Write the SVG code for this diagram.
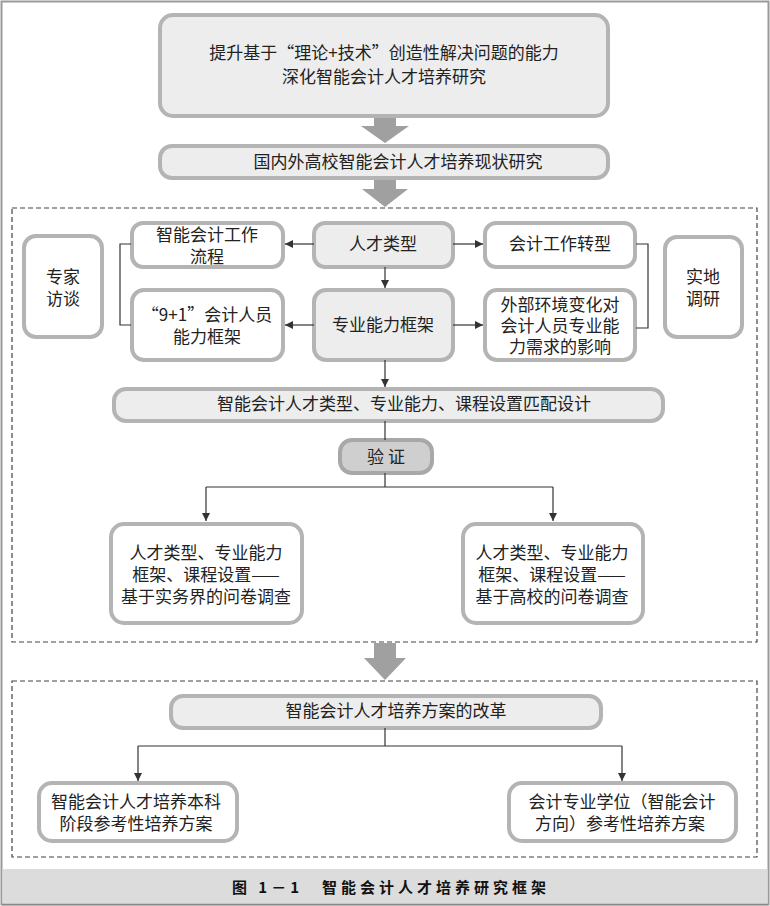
<svg xmlns="http://www.w3.org/2000/svg" width="770" height="906" viewBox="0 0 770 906">
<defs>
<style>
text{font-family:"Noto Sans CJK SC","Liberation Sans",sans-serif;font-size:17px;fill:#222;text-anchor:middle}
.n{fill:#fff;stroke:#b4b4b4;stroke-width:4}
.g{fill:#ededed;stroke:#b4b4b4;stroke-width:4}
.v{fill:#cfcfcf;stroke:#a8a8a8;stroke-width:4}
.d{fill:none;stroke:#444;stroke-width:1.2;stroke-dasharray:5 3}
.c{fill:none;stroke:#333;stroke-width:1.2}
.ba{fill:#a0a0a0}
.cap{font-weight:bold;font-size:15px;letter-spacing:4px;fill:#111}
</style>
<marker id="ah" viewBox="0 0 10 10" refX="10" refY="5" markerWidth="8" markerHeight="8" markerUnits="userSpaceOnUse" orient="auto">
<path d="M0,0 L10,5 L0,10 z" fill="#333"/>
</marker>
</defs>
<rect x="0" y="0" width="770" height="906" fill="#fff"/>
<rect x="1.5" y="1.5" width="767" height="903" fill="none" stroke="#999" stroke-width="2"/>
<rect x="2.5" y="869" width="765" height="35" fill="#dcdcdc"/>
<line x1="2" y1="904.5" x2="768" y2="904.5" stroke="#888" stroke-width="1.5"/>
<text class="cap" x="391" y="893">图 1－1　智能会计人才培养研究框架</text>

<rect class="d" x="12" y="208" width="745" height="434"/>
<rect class="d" x="12" y="681" width="745" height="176"/>

<g id="blockarrows">
<polygon class="ba" points="374,116 396,116 396,126 409,126 385,143 361,126 374,126"/>
<polygon class="ba" points="374,178 396,178 396,189 408,189 385,207 362,189 374,189"/>
<polygon class="ba" points="374,643 396,643 396,658 406,658 385,680 364,658 374,658"/>
</g>

<g id="n_top"><rect class="g" x="160" y="15" width="448" height="101" rx="13"/>
<text x="384" y="59">提升基于“理论+技术”创造性解决问题的能力<tspan x="384" dy="24">深化智能会计人才培养研究</tspan></text></g>

<g id="n_status"><rect class="g" x="160" y="146" width="448" height="32" rx="12"/>
<text x="398" y="168">国内外高校智能会计人才培养现状研究</text></g>

<g id="n_expert"><rect class="n" x="24" y="236" width="78" height="101" rx="12"/>
<text x="63" y="283">专家<tspan x="63" dy="22">访谈</tspan></text></g>

<g id="n_flow"><rect class="n" x="132" y="223" width="151" height="44" rx="11"/>
<text x="207" y="241">智能会计工作<tspan x="207" dy="22">流程</tspan></text></g>

<g id="n_91"><rect class="n" x="132" y="290" width="151" height="70" rx="12"/>
<text x="207" y="321">“9+1”会计人员<tspan x="207" dy="22">能力框架</tspan></text></g>

<g id="n_type"><rect class="g" x="314" y="223" width="139" height="44" rx="11"/>
<text x="383" y="250">人才类型</text></g>

<g id="n_frame"><rect class="g" x="314" y="290" width="139" height="70" rx="12"/>
<text x="383" y="331">专业能力框架</text></g>

<g id="n_trans"><rect class="n" x="485" y="223" width="150" height="44" rx="11"/>
<text x="560" y="250">会计工作转型</text></g>

<g id="n_env"><rect class="n" x="485" y="290" width="150" height="70" rx="12"/>
<text x="560" y="311">外部环境变化对<tspan x="560" dy="21">会计人员专业能</tspan><tspan x="560" dy="21">力需求的影响</tspan></text></g>

<g id="n_field"><rect class="n" x="665" y="237" width="77" height="100" rx="12"/>
<text x="703" y="283">实地<tspan x="703" dy="22">调研</tspan></text></g>

<g id="n_match"><rect class="g" x="114" y="389" width="549" height="32" rx="12"/>
<text x="404" y="410">智能会计人才类型、专业能力、课程设置匹配设计</text></g>

<g id="n_verify"><rect class="v" x="340" y="440" width="92" height="33" rx="12"/>
<text x="386" y="463">验 证</text></g>

<g id="n_survey1"><rect class="n" x="111" y="524" width="191" height="99" rx="13"/>
<text x="206" y="559">人才类型、专业能力<tspan x="206" dy="22">框架、课程设置——</tspan><tspan x="206" dy="22">基于实务界的问卷调查</tspan></text></g>

<g id="n_survey2"><rect class="n" x="463" y="524" width="180" height="99" rx="13"/>
<text x="552" y="559">人才类型、专业能力<tspan x="552" dy="22">框架、课程设置——</tspan><tspan x="552" dy="22">基于高校的问卷调查</tspan></text></g>

<g id="n_reform"><rect class="g" x="171" y="696" width="430" height="32" rx="12"/>
<text x="396" y="717">智能会计人才培养方案的改革</text></g>

<g id="n_ug"><rect class="n" x="39" y="783" width="198" height="58" rx="13"/>
<text x="136" y="808">智能会计人才培养本科<tspan x="136" dy="22">阶段参考性培养方案</tspan></text></g>

<g id="n_master"><rect class="n" x="509" y="783" width="227" height="58" rx="13"/>
<text x="622" y="808">会计专业学位（智能会计<tspan x="620" dy="22">方向）参考性培养方案</tspan></text></g>

<g id="connectors">
<line class="c" x1="314" y1="244" x2="285" y2="244" marker-end="url(#ah)"/>
<line class="c" x1="314" y1="325" x2="285" y2="325" marker-end="url(#ah)"/>
<line class="c" x1="453" y1="244" x2="483" y2="244" marker-end="url(#ah)"/>
<line class="c" x1="453" y1="325" x2="483" y2="325" marker-end="url(#ah)"/>
<line class="c" x1="385" y1="267" x2="385" y2="288" marker-end="url(#ah)"/>
<polyline class="c" points="131,244 120,244 120,325 131,325"/>
<polyline class="c" points="636,244 648,244 648,328 636,328"/>
<line class="c" x1="385" y1="360" x2="385" y2="387" marker-end="url(#ah)"/>
<line class="c" x1="385" y1="421" x2="385" y2="440"/>
<line class="c" x1="385" y1="473" x2="385" y2="487"/>
<polyline class="c" points="206,487 553,487"/>
<line class="c" x1="206" y1="487" x2="206" y2="521" marker-end="url(#ah)"/>
<line class="c" x1="553" y1="487" x2="553" y2="521" marker-end="url(#ah)"/>
<line class="c" x1="385" y1="728" x2="385" y2="746"/>
<polyline class="c" points="138,746 622,746"/>
<line class="c" x1="138" y1="746" x2="138" y2="781" marker-end="url(#ah)"/>
<line class="c" x1="622" y1="746" x2="622" y2="781" marker-end="url(#ah)"/>
</g>
</svg>
